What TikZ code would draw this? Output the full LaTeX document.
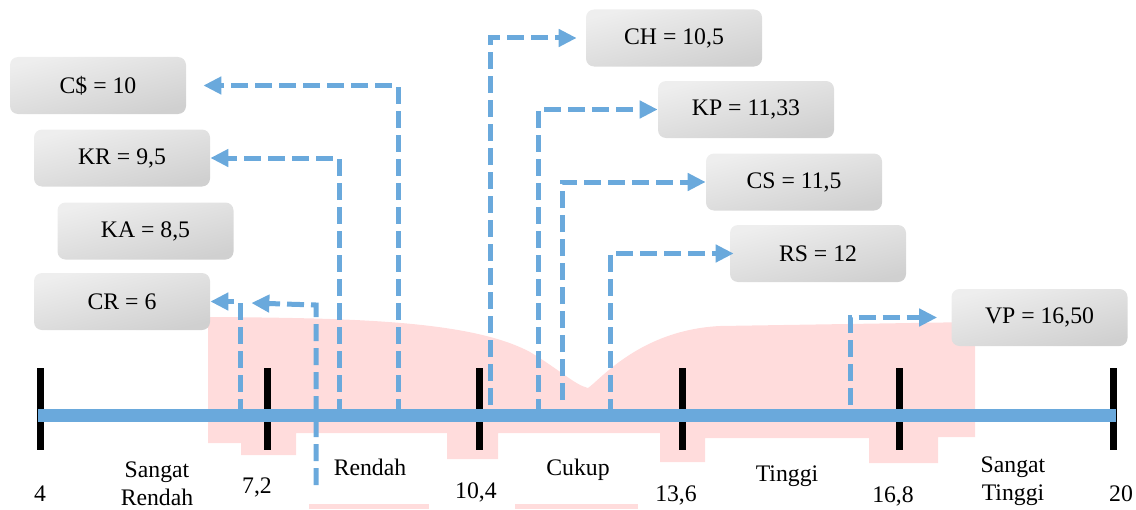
\documentclass[tikz,border=0pt]{standalone}
\usepackage{fontspec}
\setmainfont{Liberation Serif}
\usetikzlibrary{arrows.meta,positioning,calc}
\definecolor{scaleblue}{HTML}{6AA9DC}
\definecolor{boxlight}{HTML}{EEEEEE}
\definecolor{boxdark}{HTML}{D0D0D0}
\definecolor{wmpink}{HTML}{FFDCDC}

\begin{document}
\begin{tikzpicture}[font=\fontsize{13.5}{15.4}\selectfont,
 score/.style={rounded corners=0.16cm,top color=boxlight,bottom color=boxdark,shading angle=14,minimum width=3.52cm,minimum height=1.14cm,inner sep=0pt},
 link/.style={draw=scaleblue,line width=0.1cm,dash pattern=on 0.34cm off 0.14cm,-{Triangle[length=0.36cm,width=0.34cm]}},
 notch/.style={draw=black,line width=0.14cm},
 axisline/.style={draw=scaleblue,line width=0.25cm},
 lbl/.style={anchor=base,align=center,inner sep=0pt}]
\useasboundingbox (0,0) rectangle (22.72,10.18);
% faint watermark behind the scale
\fill[wmpink] (4.16,3.84) .. controls (7.00,3.82) and (9.40,3.78) .. (10.60,3.14)
 .. controls (11.20,2.78) and (11.50,2.48) .. (11.76,2.42)
 .. controls (12.00,2.58) and (12.80,3.58) .. (14.40,3.66) -- (19.50,3.74)
 -- (19.50,1.44) -- (18.76,1.44) -- (18.76,0.92) -- (17.38,0.92) -- (17.38,1.42)
 -- (14.10,1.42) -- (14.10,0.94) -- (13.20,0.94) -- (13.20,1.52) -- (9.96,1.52)
 -- (9.96,1.00) -- (8.94,1.00) -- (8.94,1.52) -- (5.92,1.52) -- (5.92,1.08)
 -- (4.82,1.08) -- (4.82,1.32) -- (4.16,1.32) -- cycle;
\fill[wmpink] (6.18,0) rectangle (8.58,0.10);
\fill[wmpink] (10.30,0) rectangle (12.76,0.10);
% score boxes
\node[score] (cs) at (1.96,8.47) {C\$ = 10};
\node[score] (kr) at (2.44,7.02) {KR = 9,5};
\node[score] (ka) at (2.91,5.56) {KA = 8,5};
\node[score] (cr) at (2.44,4.15) {CR = 6};
\node[score] (ch) at (13.48,9.42) {CH = 10,5};
\node[score] (kp) at (14.92,7.99) {KP = 11,33};
\node[score] (csx) at (15.88,6.54) {CS = 11,5};
\node[score] (rs) at (16.36,5.11) {RS = 12};
\node[score] (vp) at (20.79,3.83) {VP = 16,50};
% points on the scale
\coordinate (pcs) at (7.96,1.87);
\coordinate (pkr) at (6.78,1.87);
\coordinate (pcr) at (4.80,1.87);
\coordinate (pcrb) at (6.32,0.48);
\coordinate (pch) at (9.80,2.08);
\coordinate (pkp) at (10.76,1.87);
\coordinate (pcsx) at (11.24,2.18);
\coordinate (prs) at (12.20,1.87);
\coordinate (pvp) at (17.00,2.08);
\draw[link] (pcs) |- ([xshift=0.34cm]cs.east);
\draw[link] (pkr) |- (kr.east);
\draw[link] (pcr) |- (cr.east);
\draw[link] (pcrb) -- (6.32,4.08) -- ([xshift=0.82cm,yshift=-0.03cm]cr.east);
\draw[link] (pch) |- ([xshift=-0.18cm]ch.west);
\draw[link] (pkp) |- (kp.west);
\draw[link] (pcsx) |- (csx.west);
\draw[link] (prs) |- ([xshift=0.08cm]rs.west);
\draw[link] (pvp) |- ([xshift=-0.28cm]vp.west);
% scale
\draw[notch] (0.80,2.82) -- (0.80,1.18);
\draw[notch] (5.34,2.82) -- (5.34,1.18);
\draw[notch] (9.58,2.82) -- (9.58,1.18);
\draw[notch] (13.64,2.82) -- (13.64,1.18);
\draw[notch] (17.98,2.82) -- (17.98,1.18);
\draw[notch] (22.26,2.82) -- (22.26,1.18);
\draw[axisline] (0.76,1.87) -- (22.32,1.87);
\node[lbl] (v4) at (0.80,0.16) {4};
\node[lbl] (sr) at (3.14,0.08) {Sangat\\Rendah};
\node[lbl] (v72) at (5.14,0.32) {7,2};
\node[lbl] (rd) at (7.40,0.68) {Rendah};
\node[lbl] (v104) at (9.52,0.22) {10,4};
\node[lbl] (ck) at (11.56,0.68) {Cukup};
\node[lbl] (v136) at (13.52,0.16) {13,6};
\node[lbl] (tg) at (15.74,0.56) {Tinggi};
\node[lbl] (v168) at (17.86,0.14) {16,8};
\node[lbl] (st) at (20.26,0.18) {Sangat\\Tinggi};
\node[lbl] (v20) at (22.42,0.16) {20};
\end{tikzpicture}
\end{document}
